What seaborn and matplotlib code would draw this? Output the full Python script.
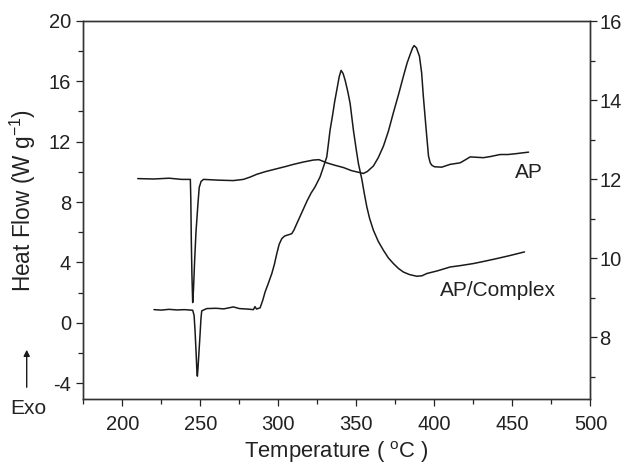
import matplotlib
matplotlib.use("Agg")
import matplotlib.pyplot as plt
from matplotlib.ticker import MultipleLocator
import seaborn as sns
import pandas as pd

# AP/Complex curve (left axis, W/g)
complex_temp = [220.3, 225, 230, 235, 240, 245.1, 246.0, 246.6, 247.3, 247.8, 248.1, 248.5,
                249.2, 249.8, 250.4, 250.9, 254.1, 260, 265, 271.2, 275, 280, 284, 285,
                286, 288.3, 290, 291.5, 293.5, 295.8, 297.5, 299, 300.5, 302.2, 304, 305.4,
                307, 308.6, 310, 311.8, 315, 318.5, 321, 323.5, 326.7, 328.8, 331, 332,
                333.1, 334.9, 336, 337.4, 339, 340.2, 341.5, 342.8, 344.5, 346, 348.1,
                350, 351.3, 353.5, 355, 356.7, 358.5, 360.9, 364, 367.3, 370.5, 373.7,
                377, 380.1, 384, 388.7, 392, 395.1, 402, 410, 417, 425, 432, 440, 448,
                457.7]
complex_flow = [0.88, 0.85, 0.9, 0.86, 0.88, 0.84, 0.5, -0.5, -2.0, -3.2, -3.52, -3.0,
                -1.8, -0.8, 0.3, 0.8, 0.95, 0.97, 0.93, 1.06, 0.95, 0.92, 0.88, 1.08,
                0.92, 1.0, 1.5, 2.05, 2.6, 3.27, 3.9, 4.59, 5.2, 5.58, 5.75, 5.8,
                5.85, 5.91, 6.15, 6.57, 7.3, 8.1, 8.6, 9.0, 9.66, 10.3, 10.98, 11.8,
                12.74, 13.85, 14.6, 15.39, 16.3, 16.71, 16.5, 16.05, 15.3, 14.51, 12.74,
                11.4, 10.54, 9.5, 8.6, 7.67, 6.9, 6.13, 5.4, 4.81, 4.3, 3.93,
                3.6, 3.37, 3.2, 3.09, 3.12, 3.27, 3.45, 3.7, 3.8, 3.93, 4.08, 4.26, 4.45,
                4.7]

# AP curve (right axis)
ap_temp = [209.9, 220, 230, 238, 243.6, 243.9, 244.2, 244.6, 245.1, 245.6, 246.3, 247.2,
           248.5, 249.3, 250.5, 252, 262, 271.2, 277.6, 282, 286.2, 292, 299, 305,
           309.6, 316, 322.4, 326, 331, 336, 341.7, 347, 352.4, 354.5, 357, 360.9,
           364, 367.3, 370.5, 373.7, 377, 380.1, 382.5, 384.4, 386, 387, 388.5,
           390.4, 391.8, 392.9, 394.7, 396.2, 397.3, 398.3, 400, 404.7, 410, 416.5,
           420, 422.9, 427, 431.4, 436, 442.1, 447, 452, 456, 460.3]
ap_flow = [12.02, 12.01, 12.03, 12.0, 12.0, 11.5, 10.5, 9.6, 8.88, 9.2, 9.9, 10.66,
           11.4, 11.8, 11.95, 12.0, 11.98, 11.97, 12.0, 12.06, 12.13, 12.2, 12.27, 12.33,
           12.38, 12.44, 12.49, 12.5, 12.42, 12.36, 12.3, 12.22, 12.17, 12.15, 12.2, 12.34,
           12.55, 12.84, 13.22, 13.69, 14.15, 14.61, 14.95, 15.16, 15.33, 15.39, 15.33,
           15.12, 14.7, 14.1, 13.26, 12.59, 12.42, 12.36, 12.32, 12.31, 12.38, 12.42,
           12.5, 12.57, 12.56, 12.55, 12.58, 12.63, 12.63, 12.65, 12.67, 12.69]

x_ticks = [200, 250, 300, 350, 400, 450, 500]
left_ticks = [-4, 0, 4, 8, 12, 16, 20]
right_ticks = [8, 10, 12, 14, 16]

sns.set_style("ticks")
plt.rcParams['font.family'] = ['Liberation Sans', 'DejaVu Sans']
plt.rcParams['mathtext.fontset'] = 'custom'
plt.rcParams['mathtext.rm'] = 'Liberation Sans'
plt.rcParams['mathtext.it'] = 'Liberation Sans'
plt.rcParams['axes.unicode_minus'] = False

fs = 14.5
tc = "#222222"
fig = plt.figure(figsize=(6.3, 4.68), dpi=100)
ax = fig.add_axes([0.1322, 0.1485, 0.8051, 0.8073])
ax2 = ax.twinx()

df_c = pd.DataFrame({"T": complex_temp, "H": complex_flow})
df_a = pd.DataFrame({"T": ap_temp, "H": ap_flow})
sns.lineplot(data=df_c, x="T", y="H", ax=ax, color="#1a1a1a", lw=1.1,
             estimator=None, sort=False)
sns.lineplot(data=df_a, x="T", y="H", ax=ax2, color="#1a1a1a", lw=1.1,
             estimator=None, sort=False)

ax.set_xlim(175, 500)
ax.set_ylim(-5, 20)
ax2.set_ylim(6.45, 16.02)

ax.set_xticks(x_ticks)
ax.set_yticks(left_ticks)
ax2.set_yticks(right_ticks)
ax.xaxis.set_minor_locator(MultipleLocator(25))
ax.yaxis.set_minor_locator(MultipleLocator(2))
ax2.yaxis.set_minor_locator(MultipleLocator(1))

for a in (ax, ax2):
    a.tick_params(which="major", direction="out", length=4.8, width=0.9,
                  labelsize=fs, colors=tc)
    a.tick_params(which="minor", direction="out", length=3.5, width=0.9,
                  colors=tc)
    for s in a.spines.values():
        s.set_visible(True)
        s.set_linewidth(1.0)
        s.set_color("#333333")
ax.tick_params(axis="x", which="both", top=False, pad=7)
ax.tick_params(axis="y", which="both", pad=4)
ax2.tick_params(axis="y", which="both", pad=1.5)
ax2.tick_params(axis="x", which="both", top=False, bottom=False)

ax.set_xlabel("Temperature ( $^{\\rm o}$C )", fontsize=15.8, color=tc, labelpad=4)
ax.set_ylabel("Heat Flow (W g$^{-1}$)", fontsize=16.3, color=tc)
ax.yaxis.set_label_coords(-0.09, 0.524)
ax2.set_ylabel("")

ax.text(460.7, 9.97, "AP", fontsize=15, color=tc, ha="center", va="center")
ax.text(440.5, 2.16, "AP/Complex", fontsize=15, color=tc, ha="center", va="center")

fig.text(28 / 630, 1 - 408 / 468, "Exo", fontsize=15, color=tc, ha="center", va="center")
fig.add_artist(matplotlib.patches.FancyArrowPatch(
    (26.7 / 630, 1 - 390 / 468), (26.7 / 630, 1 - 347 / 468),
    transform=fig.transFigure, arrowstyle="-|>", mutation_scale=9,
    color="#1a1a1a", lw=1.0))

fig.savefig("out.png", dpi=100)
